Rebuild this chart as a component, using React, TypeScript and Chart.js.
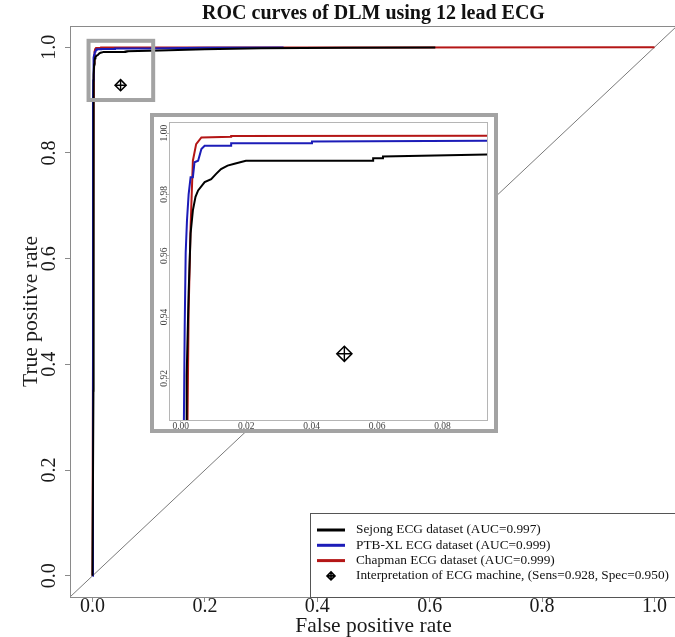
import React, { useEffect, useRef } from "react";
import { Chart, registerables } from "chart.js";

Chart.register(...registerables);

const SERIF = "'Liberation Serif', 'Times New Roman', serif";

const TITLE = "ROC curves of DLM using 12 lead ECG";
const X_LABEL = "False positive rate";
const Y_LABEL = "True positive rate";

const MAIN_TICKS = [0, 0.2, 0.4, 0.6, 0.8, 1.0];
const INSET_X_TICKS = [0, 0.02, 0.04, 0.06, 0.08];
const INSET_Y_TICKS = [0.92, 0.94, 0.96, 0.98, 1.0];

const SERIES_NAMES = [
  "Sejong ECG dataset (AUC=0.997)",
  "PTB-XL ECG dataset (AUC=0.999)",
  "Chapman ECG dataset (AUC=0.999)",
];
const SERIES_COLORS = ["#000000", "#1c1cb8", "#b41616"];
const MACHINE_NAME = "Interpretation of ECG machine, (Sens=0.928, Spec=0.950)";

// Sejong (black)
const SEJONG_FPR = [0, 0.0017, 0.0017, 0.0019, 0.0024, 0.003, 0.0037, 0.0045, 0.0053, 0.0073, 0.0093, 0.0108, 0.0123, 0.0143, 0.0164, 0.0199, 0.0588, 0.0588, 0.0618, 0.0618, 0.12, 0.2, 0.3, 0.45, 0.61];
const SEJONG_TPR = [0, 0.35, 0.9, 0.9209, 0.9478, 0.9673, 0.9748, 0.9792, 0.9813, 0.984, 0.985, 0.9867, 0.9883, 0.9894, 0.99, 0.991, 0.991, 0.9918, 0.9918, 0.9924, 0.9935, 0.996, 0.998, 0.999, 0.9995];

// PTB-XL (blue)
const PTBXL_FPR = [0, 0.0009, 0.0009, 0.0012, 0.0015, 0.0019, 0.0024, 0.003, 0.0037, 0.0042, 0.0053, 0.0063, 0.0073, 0.0154, 0.0154, 0.0401, 0.0401, 0.1, 0.2, 0.34];
const PTBXL_TPR = [0, 0.44, 0.9, 0.937, 0.961, 0.9716, 0.98, 0.9856, 0.9856, 0.9905, 0.991, 0.9948, 0.9959, 0.9959, 0.9967, 0.9967, 0.9973, 0.9975, 0.999, 0.9995];

// Chapman (red)
const CHAPMAN_FPR = [0, 0.002, 0.0024, 0.003, 0.0037, 0.0047, 0.0063, 0.0154, 0.0154, 0.5, 1.0];
const CHAPMAN_TPR = [0, 0.9, 0.942, 0.9694, 0.991, 0.9964, 0.9986, 0.9988, 0.9991, 0.9995, 1.0];

const MACHINE_SENS = 0.928;
const MACHINE_SPEC = 0.95;

const DIAGONAL_FPR = [-0.1, 1.1];
const DIAGONAL_TPR = [-0.1, 1.1];

// zoomed region marked on the main plot
const ZOOM_FPR = [-0.007, 0.108];
const ZOOM_TPR = [0.9, 1.012];

const MAIN_W = 700;
const MAIN_H = 637;
const AREA_LEFT = 70;
const AREA_RIGHT = 677;
const AREA_BOTTOM = 597;
const INSET_W = 348;
const INSET_H = 320;

const pts = (xs: number[], ys: number[]) => xs.map((x, i) => ({ x, y: ys[i] }));

function buildDatasets(markerR: number, lw: number) {
  const machine = [{ x: 1 - MACHINE_SPEC, y: MACHINE_SENS }];
  const series = [
    pts(SEJONG_FPR, SEJONG_TPR),
    pts(PTBXL_FPR, PTBXL_TPR),
    pts(CHAPMAN_FPR, CHAPMAN_TPR),
  ];
  return [
    {
      label: MACHINE_NAME,
      data: machine,
      showLine: false,
      pointStyle: "rectRot",
      pointRadius: markerR,
      pointBorderColor: "#000",
      pointBackgroundColor: "rgba(0,0,0,0)",
      pointBorderWidth: 1.6,
    },
    {
      label: "machine-cross",
      data: machine,
      showLine: false,
      pointStyle: "cross",
      pointRadius: markerR,
      pointBorderColor: "#000",
      pointBorderWidth: 1.4,
    },
    ...series.map((d, i) => ({
      label: SERIES_NAMES[i],
      data: d,
      borderColor: SERIES_COLORS[i],
      borderWidth: lw,
      pointRadius: 0,
      tension: 0,
    })),
    {
      label: "diagonal",
      data: pts(DIAGONAL_FPR, DIAGONAL_TPR),
      borderColor: "#7a7a7a",
      borderWidth: 1,
      pointRadius: 0,
    },
  ];
}

const mainDecor = {
  id: "mainDecor",
  afterDatasetsDraw(chart: any) {
    const { ctx, chartArea, scales } = chart;
    const x = scales.x, y = scales.y;
    ctx.save();
    const x0 = x.getPixelForValue(ZOOM_FPR[0]);
    const x1 = x.getPixelForValue(ZOOM_FPR[1]);
    const y0 = y.getPixelForValue(ZOOM_TPR[1]);
    const y1 = y.getPixelForValue(ZOOM_TPR[0]);
    ctx.strokeStyle = "#a3a3a3";
    ctx.lineWidth = 4;
    ctx.strokeRect(x0, y0, x1 - x0, y1 - y0);
    ctx.strokeStyle = "#8a8a8a";
    ctx.lineWidth = 1;
    ctx.strokeRect(
      Math.round(chartArea.left) + 0.5,
      Math.round(chartArea.top) + 0.5,
      Math.round(chartArea.right - chartArea.left),
      Math.round(chartArea.bottom - chartArea.top)
    );
    ctx.restore();
  },
  afterDraw(chart: any) {
    const { ctx, chartArea } = chart;
    const left = 310, top = 513;
    ctx.save();
    ctx.fillStyle = "#fff";
    ctx.fillRect(left, top, chartArea.right - left + 10, chartArea.bottom - top);
    ctx.strokeStyle = "#555";
    ctx.lineWidth = 1;
    ctx.strokeRect(left + 0.5, top + 0.5, chartArea.right - left + 20, chartArea.bottom - top);
    ctx.font = `13.3px ${SERIF}`;
    ctx.textBaseline = "middle";
    ctx.textAlign = "left";
    const rowH = 15.3;
    const y0 = top + 17;
    const lines = chart.data.datasets.slice(2, 5);
    lines.forEach((ds: any, i: number) => {
      const yy = y0 + i * rowH;
      ctx.strokeStyle = ds.borderColor;
      ctx.lineWidth = 3;
      ctx.beginPath();
      ctx.moveTo(317, yy);
      ctx.lineTo(345, yy);
      ctx.stroke();
      ctx.fillStyle = "#111";
      ctx.fillText(ds.label, 356, yy);
    });
    const ym = y0 + 3 * rowH;
    const r = 4;
    const cx = 331;
    ctx.strokeStyle = "#000";
    ctx.lineWidth = 1.6;
    ctx.beginPath();
    ctx.moveTo(cx, ym - r);
    ctx.lineTo(cx + r, ym);
    ctx.lineTo(cx, ym + r);
    ctx.lineTo(cx - r, ym);
    ctx.closePath();
    ctx.moveTo(cx, ym - r);
    ctx.lineTo(cx, ym + r);
    ctx.moveTo(cx - r, ym);
    ctx.lineTo(cx + r, ym);
    ctx.stroke();
    ctx.fillStyle = "#111";
    ctx.fillText(chart.data.datasets[0].label, 356, ym);
    ctx.restore();
  },
};

const insetDecor = {
  id: "insetDecor",
  beforeDraw(chart: any) {
    const { ctx } = chart;
    ctx.save();
    ctx.fillStyle = "#fff";
    ctx.fillRect(0, 0, chart.width, chart.height);
    ctx.restore();
  },
  afterDraw(chart: any) {
    const { ctx, chartArea } = chart;
    ctx.save();
    ctx.strokeStyle = "#b5b5b5";
    ctx.lineWidth = 1;
    ctx.strokeRect(
      Math.round(chartArea.left) + 0.5,
      Math.round(chartArea.top) + 0.5,
      Math.round(chartArea.right - chartArea.left),
      Math.round(chartArea.bottom - chartArea.top)
    );
    ctx.strokeStyle = "#a3a3a3";
    ctx.lineWidth = 4;
    ctx.strokeRect(2, 2, chart.width - 4, chart.height - 4);
    ctx.restore();
  },
};

export default function App() {
  const mainRef = useRef<HTMLCanvasElement | null>(null);
  const insetRef = useRef<HTMLCanvasElement | null>(null);

  useEffect(() => {
    const main = new Chart(mainRef.current as HTMLCanvasElement, {
      type: "line",
      data: { datasets: buildDatasets(5.5, 2) as any },
      plugins: [mainDecor],
      options: {
        responsive: false,
        animation: false,
        devicePixelRatio: 1,
        layout: { padding: { left: 0, right: MAIN_W - AREA_RIGHT, top: 0, bottom: 0 } },
        plugins: {
          legend: { display: false },
          tooltip: { enabled: false },
          title: {
            display: true,
            fullSize: false,
            text: TITLE,
            color: "#111",
            font: { family: SERIF, size: 20, weight: "bold", lineHeight: 1 },
            padding: { top: 4, bottom: 2 },
          },
        },
        scales: {
          x: {
            type: "linear",
            min: -0.04,
            max: 1.04,
            afterBuildTicks: (s: any) => { s.ticks = MAIN_TICKS.map((v) => ({ value: v })); },
            afterFit: (s: any) => { s.height = MAIN_H - AREA_BOTTOM; },
            grid: { drawOnChartArea: false, drawTicks: true, tickLength: 5, color: "#8a8a8a" },
            border: { display: false },
            ticks: {
              font: { family: SERIF, size: 20, lineHeight: 1 },
              color: "#1a1a1a",
              padding: -5,
              maxRotation: 0,
              callback: (v: any) => Number(v).toFixed(1),
            },
            title: {
              display: true,
              text: X_LABEL,
              color: "#1a1a1a",
              font: { family: SERIF, size: 21.5, lineHeight: 1 },
              padding: { top: 0, bottom: 0 },
            },
          },
          y: {
            type: "linear",
            min: -0.04,
            max: 1.04,
            afterBuildTicks: (s: any) => { s.ticks = MAIN_TICKS.map((v) => ({ value: v })); },
            afterFit: (s: any) => { s.width = AREA_LEFT; },
            grid: { drawOnChartArea: false, drawTicks: true, tickLength: 5, color: "#8a8a8a" },
            border: { display: false },
            ticks: {
              font: { family: SERIF, size: 20, lineHeight: 1 },
              color: "#1a1a1a",
              padding: 2.5,
              minRotation: 90,
              maxRotation: 90,
              crossAlign: "center",
              callback: (v: any) => Number(v).toFixed(1),
            },
            title: {
              display: true,
              text: Y_LABEL,
              color: "#1a1a1a",
              font: { family: SERIF, size: 21.5, lineHeight: 1 },
              padding: { top: 21, bottom: 0 },
            },
          },
        },
      } as any,
    });

    const inset = new Chart(insetRef.current as HTMLCanvasElement, {
      type: "line",
      data: { datasets: buildDatasets(7.5, 2) as any },
      plugins: [insetDecor],
      options: {
        responsive: false,
        animation: false,
        devicePixelRatio: 1,
        layout: { padding: { left: 0, right: INSET_W - 337, top: 6, bottom: 0 } },
        plugins: { legend: { display: false }, tooltip: { enabled: false }, title: { display: false } },
        scales: {
          x: {
            type: "linear",
            min: -0.0036,
            max: 0.0936,
            afterBuildTicks: (s: any) => { s.ticks = INSET_X_TICKS.map((v) => ({ value: v })); },
            afterFit: (s: any) => { s.height = INSET_H - 307; },
            grid: { drawOnChartArea: false, drawTicks: true, tickLength: 2, color: "#b5b5b5" },
            border: { display: false },
            ticks: {
              font: { family: SERIF, size: 9.5 },
              color: "#444",
              padding: -1,
              maxRotation: 0,
              callback: (v: any) => Number(v).toFixed(2),
            },
          },
          y: {
            type: "linear",
            min: 0.9064,
            max: 1.0036,
            afterBuildTicks: (s: any) => { s.ticks = INSET_Y_TICKS.map((v) => ({ value: v })); },
            afterFit: (s: any) => { s.width = 19; },
            grid: { drawOnChartArea: false, drawTicks: true, tickLength: 2, color: "#b5b5b5" },
            border: { display: false },
            ticks: {
              font: { family: SERIF, size: 9.5 },
              color: "#444",
              padding: -6,
              minRotation: 90,
              maxRotation: 90,
              crossAlign: "center",
              callback: (v: any) => Number(v).toFixed(2),
            },
          },
        },
      } as any,
    });

    return () => {
      main.destroy();
      inset.destroy();
    };
  }, []);

  return (
    <div
      style={{
        position: "fixed",
        left: 0,
        top: 0,
        width: 675,
        height: 637,
        overflow: "hidden",
        background: "#fff",
      }}
    >
      <canvas
        ref={mainRef}
        width={MAIN_W}
        height={MAIN_H}
        style={{ position: "absolute", left: 0, top: 0 }}
      />
      <canvas
        ref={insetRef}
        width={INSET_W}
        height={INSET_H}
        style={{ position: "absolute", left: 150, top: 113 }}
      />
    </div>
  );
}
